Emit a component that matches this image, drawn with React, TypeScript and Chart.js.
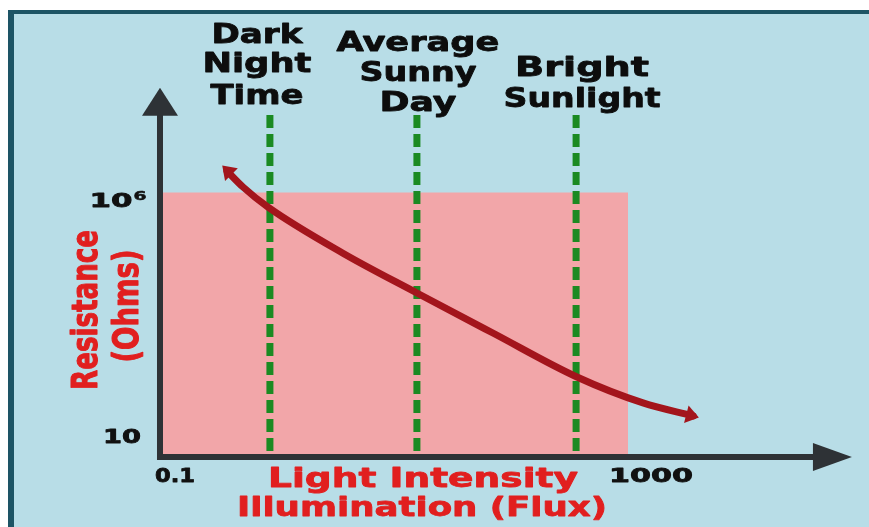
import React, { useEffect, useRef } from "react";
import { Chart, registerables } from "chart.js";

Chart.register(...registerables);

// ---- Data ----
// LDR characteristic: illumination (lux) vs resistance (ohms)
const illumination = [0.374, 0.512, 0.838, 3.66, 15.7, 70, 366, 1343, 3600];
const resistance = [2.85e6, 1.33e6, 5.1e5, 5.7e4, 8.6e3, 1.28e3, 158, 46, 24.7];

// Reference light levels (dashed verticals)
const markerLux = [0.87, 15.7, 360];
const markerLabels = [
  ["Dark", "Night", "Time"],
  ["Average", "Sunny", "Day"],
  ["Bright", "Sunlight"],
];
const markerTop = 4.1e7;
const markerBottom = 3.9;

// Shaded operating region
const shadeLux = [0.1, 1000];
const shadeLevel = 1e6;

// Axis frame
const axisOriginX = 0.1;
const axisOriginY = 3.5;
const axisEndX = 8.2e4;
const axisEndY = 1.5e8;

// Tick labels
const xTickValues = [0.1, 1000];
const xTickLabels = ["0.1", "1000"];
const yTickValues = [10, 1e6];
const yTickLabels = ["10", "10|6"];

const xTitle = ["Light Intensity", "Illumination (Flux)"];
const yTitle = ["Resistance", "(Ohms)"];

// ---- Styles ----
const RED_CURVE = "#a3151c";
const GREEN = "#1b8a22";
const PINK = "#f2a6a9";
const AXIS = "#2e3236";
const TITLE_RED = "#e11f1f";
const FONT = '"DejaVu Sans", "Liberation Sans", Arial, sans-serif';

function drawFit(
  ctx: CanvasRenderingContext2D,
  text: string,
  cx: number,
  baseY: number,
  width: number,
  size: number,
  color: string
) {
  ctx.save();
  ctx.font = `bold ${size}px ${FONT}`;
  const w = ctx.measureText(text).width;
  ctx.translate(cx, baseY);
  ctx.scale(width / w, 1);
  ctx.textAlign = "center";
  ctx.textBaseline = "alphabetic";
  ctx.lineJoin = "round";
  ctx.fillStyle = color;
  ctx.fillText(text, 0, 0);
  ctx.strokeStyle = color;
  ctx.lineWidth = size > 15 ? 0.8 : 0.5;
  ctx.strokeText(text, 0, 0);
  ctx.restore();
}

function drawFitVertical(
  ctx: CanvasRenderingContext2D,
  text: string,
  baseX: number,
  cy: number,
  length: number,
  hs: number,
  size: number,
  color: string
) {
  ctx.save();
  ctx.font = `bold ${size}px ${FONT}`;
  const w = ctx.measureText(text).width;
  ctx.translate(baseX, cy);
  ctx.scale(hs, 1);
  ctx.rotate(-Math.PI / 2);
  ctx.scale(length / w, 1);
  ctx.textAlign = "center";
  ctx.textBaseline = "alphabetic";
  ctx.lineJoin = "round";
  ctx.fillStyle = color;
  ctx.fillText(text, 0, 0);
  ctx.strokeStyle = color;
  ctx.lineWidth = 0.8;
  ctx.strokeText(text, 0, 0);
  ctx.restore();
}

function arrowHead(
  ctx: CanvasRenderingContext2D,
  tipX: number,
  tipY: number,
  dx: number,
  dy: number,
  len: number,
  half: number,
  color: string
) {
  const n = Math.hypot(dx, dy) || 1;
  const ux = dx / n;
  const uy = dy / n;
  const px = -uy;
  const py = ux;
  const bx = tipX - ux * len;
  const by = tipY - uy * len;
  ctx.save();
  ctx.fillStyle = color;
  ctx.beginPath();
  ctx.moveTo(tipX, tipY);
  ctx.lineTo(bx + px * half, by + py * half);
  ctx.lineTo(bx - px * half, by - py * half);
  ctx.closePath();
  ctx.fill();
  ctx.restore();
}

const overlayPlugin = {
  id: "ldrOverlay",
  afterDatasetsDraw(chart: any) {
    const ctx: CanvasRenderingContext2D = chart.ctx;
    const xs = chart.scales.x;
    const ys = chart.scales.y;
    const ox = xs.getPixelForValue(axisOriginX);
    const oy = ys.getPixelForValue(axisOriginY);
    const ex = xs.getPixelForValue(axisEndX);
    const ey = ys.getPixelForValue(axisEndY);

    // axes
    ctx.save();
    ctx.strokeStyle = AXIS;
    ctx.lineWidth = 6;
    ctx.lineCap = "butt";
    ctx.beginPath();
    ctx.moveTo(ox, oy + 3);
    ctx.lineTo(ox, ey + 26);
    ctx.moveTo(ox - 3, oy);
    ctx.lineTo(ex - 37, oy);
    ctx.stroke();
    ctx.restore();
    arrowHead(ctx, ox, ey, 0, -1, 28, 18, AXIS);
    arrowHead(ctx, ex, oy, 1, 0, 39, 14, AXIS);

    // curve arrowheads
    const pts = chart.getDatasetMeta(0).data;
    if (pts.length > 1) {
      const a = pts[0];
      const b = pts[1];
      arrowHead(ctx, a.x - (b.x - a.x) * 0.3, a.y - (b.y - a.y) * 0.35, a.x - b.x, a.y - b.y, 13, 9, RED_CURVE);
      const z = pts[pts.length - 1];
      const y = pts[pts.length - 2];
      const n = Math.hypot(z.x - y.x, z.y - y.y);
      arrowHead(ctx, z.x + ((z.x - y.x) / n) * 6, z.y + ((z.y - y.y) / n) * 6, z.x - y.x, z.y - y.y, 13, 9, RED_CURVE);
    }

    // marker labels
    const labelLayout = [
      { dx: -13, lines: [[43, 91], [72, 109], [104, 93]] },
      { dx: 1, lines: [[51, 163], [81, 117], [111, 77]] },
      { dx: 6, lines: [[76, 134], [107, 157]] },
    ];
    markerLux.forEach((lux, i) => {
      const cx = xs.getPixelForValue(lux) + labelLayout[i].dx;
      markerLabels[i].forEach((t, j) => {
        const [by, w] = labelLayout[i].lines[j];
        drawFit(ctx, t, cx, by, w, 27, "#0d0d0d");
      });
    });

    // tick labels
    const xTickLayout = [
      { dx: 15, w: 40 },
      { dx: 23, w: 84 },
    ];
    xTickValues.forEach((v, i) => {
      drawFit(ctx, xTickLabels[i], xs.getPixelForValue(v) + xTickLayout[i].dx, oy + 25, xTickLayout[i].w, 20, "#111111");
    });
    yTickValues.forEach((v, i) => {
      const py = ys.getPixelForValue(v);
      const [base, sup] = yTickLabels[i].split("|");
      if (sup) {
        drawFit(ctx, base, ox - 49, py + 14, 43, 20, "#111111");
        drawFit(ctx, sup, ox - 20, py + 7, 13, 12, "#111111");
      } else {
        drawFit(ctx, base, ox - 38, py + 8, 38, 20, "#111111");
      }
    });

    // axis titles
    const cxTitle = (ox + xs.getPixelForValue(1000)) / 2 + 29;
    drawFit(ctx, xTitle[0], cxTitle, oy + 30, 310, 27, TITLE_RED);
    drawFit(ctx, xTitle[1], cxTitle - 1, oy + 59, 370, 27, TITLE_RED);
    drawFitVertical(ctx, yTitle[0], ox - 63, 310, 160, 1.3, 27, TITLE_RED);
    drawFitVertical(ctx, yTitle[1], ox - 22, 306, 113, 1.3, 27, TITLE_RED);
  },
};

export default function App() {
  const ref = useRef<HTMLCanvasElement | null>(null);

  useEffect(() => {
    if (!ref.current) return;
    const curve = illumination.map((x, i) => ({ x, y: resistance[i] }));
    const markers = markerLux.map((x) => ({
      type: "line" as const,
      data: [
        { x, y: markerTop },
        { x, y: markerBottom },
      ],
      borderColor: GREEN,
      borderWidth: 7,
      borderDash: [13, 6],
      borderCapStyle: "butt" as const,
      pointRadius: 0,
      fill: false,
      tension: 0,
    }));
    const chart = new Chart(ref.current, {
      type: "line",
      data: {
        datasets: [
          {
            data: curve,
            borderColor: RED_CURVE,
            borderWidth: 7,
            pointRadius: 0,
            cubicInterpolationMode: "monotone",
            fill: false,
            borderCapStyle: "round",
          },
          ...markers,
          {
            data: shadeLux.map((x) => ({ x, y: shadeLevel })),
            borderColor: PINK,
            borderWidth: 1,
            backgroundColor: PINK,
            pointRadius: 0,
            fill: { value: axisOriginY },
            tension: 0,
          },
        ],
      },
      options: {
        responsive: false,
        maintainAspectRatio: false,
        animation: false,
        devicePixelRatio: 1,
        layout: { padding: 0 },
        plugins: {
          legend: { display: false },
          tooltip: { enabled: false },
          title: { display: false },
        },
        scales: {
          x: {
            type: "logarithmic",
            display: false,
            min: 0.004291,
            max: 114750,
          },
          y: {
            type: "logarithmic",
            display: false,
            min: 0.1257,
            max: 9.72e9,
          },
        },
      },
      plugins: [overlayPlugin],
    } as any);
    return () => chart.destroy();
  }, []);

  return (
    <div
      style={{
        position: "fixed",
        left: 0,
        top: 0,
        width: 869,
        height: 527,
        background: "#ffffff",
        overflow: "hidden",
      }}
    >
      <div
        style={{
          position: "absolute",
          left: 8,
          top: 10,
          right: 0,
          bottom: 0,
          background: "#b8dde7",
          borderLeft: "6px solid #1d5465",
          borderTop: "4px solid #1d5465",
        }}
      />
      <canvas
        ref={ref}
        width={869}
        height={527}
        style={{ position: "absolute", left: 0, top: 0, width: 869, height: 527 }}
      />
    </div>
  );
}
